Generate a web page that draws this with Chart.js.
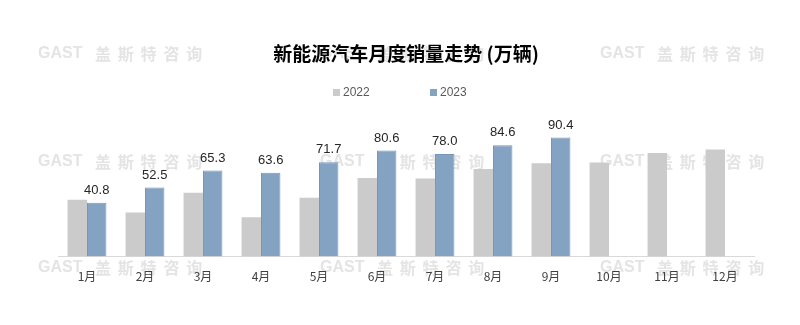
<!DOCTYPE html>
<html>
<head>
<meta charset="utf-8">
<script src="https://cdn.jsdelivr.net/npm/chart.js@4/dist/chart.umd.min.js"></script>
<style>
    html, body { margin: 0; padding: 0; background: #fff; }
    #wrap { width: 800px; height: 325px; }
</style>
</head>
<body>
<div id="wrap"><canvas id="chart"></canvas></div>
<script>
// данные
const months = ['1月', '2月', '3月', '4月', '5月', '6月', '7月', '8月', '9月', '10月', '11月', '12月'];
const sales2022 = [43.1, 33.4, 48.4, 29.9, 44.7, 59.6, 59.3, 66.6, 70.8, 71.4, 78.6, 81.4];
const sales2023 = [40.8, 52.5, 65.3, 63.6, 71.7, 80.6, 78.0, 84.6, 90.4, null, null, null];

const CJK = '"Noto Sans CJK SC", "Liberation Sans", sans-serif';
const COLOR_2022 = '#cbcbcb';
const COLOR_2023 = '#84a2c2';

// водяной знак
const watermarkPlugin = {
    id: 'watermark',
    beforeDraw(chart) {
        const ctx = chart.ctx;
        const cols = [38, 320, 600];
        const rows = [54, 162, 268];
        ctx.save();
        ctx.fillStyle = '#e4e4e4';
        ctx.textBaseline = 'middle';
        ctx.textAlign = 'left';
        rows.forEach(y => {
            cols.forEach(x => {
                ctx.font = 'bold 16px "Liberation Sans", sans-serif';
                ctx.fillText('GAST', x, y);
                ctx.font = 'bold 16px ' + CJK;
                '盖斯特咨询'.split('').forEach((ch, i) => {
                    ctx.fillText(ch, x + 57 + i * 22.8, y);
                });
            });
        });
        ctx.restore();
    }
};

// своя легенда
const legendPlugin = {
    id: 'customLegend',
    afterDraw(chart) {
        const ctx = chart.ctx;
        const items = [
            { x: 333, label: chart.data.datasets[0].label, color: COLOR_2022 },
            { x: 430, label: chart.data.datasets[1].label, color: COLOR_2023 }
        ];
        ctx.save();
        ctx.font = '12px "Liberation Sans", sans-serif';
        ctx.textBaseline = 'middle';
        ctx.textAlign = 'left';
        items.forEach(it => {
            ctx.fillStyle = it.color;
            ctx.fillRect(it.x, 89, 7, 7);
            ctx.fillStyle = '#595959';
            ctx.fillText(it.label, it.x + 10, 93);
        });
        ctx.restore();
    }
};

// подписи значений над столбцами 2023
const valueLabelPlugin = {
    id: 'valueLabels',
    afterDatasetsDraw(chart) {
        const ctx = chart.ctx;
        const meta = chart.getDatasetMeta(1);
        ctx.save();
        ctx.font = '13px "Liberation Sans", sans-serif';
        ctx.fillStyle = '#262626';
        ctx.textAlign = 'center';
        ctx.textBaseline = 'bottom';
        meta.data.forEach((bar, i) => {
            const v = sales2023[i];
            if (v == null) return;
            ctx.fillText(v.toFixed(1), bar.x, bar.y - 6);
        });
        ctx.restore();
    }
};

new Chart(document.getElementById('chart'), {
    type: 'bar',
    data: {
        labels: months,
        datasets: [
            {
                label: '2022',
                data: sales2022,
                backgroundColor: COLOR_2022,
                borderWidth: 0,
                barPercentage: 1,
                categoryPercentage: 0.67
            },
            {
                label: '2023',
                data: sales2023,
                backgroundColor: COLOR_2023,
                borderColor: '#7696bb',
                borderWidth: 1,
                barPercentage: 1,
                categoryPercentage: 0.67
            }
        ]
    },
    options: {
        responsive: true,
        maintainAspectRatio: false,
        animation: false,
        layout: {
            padding: { top: 40, left: 58, right: 46, bottom: 28 }
        },
        plugins: {
            tooltip: { enabled: false },
            legend: { display: false },
            title: {
                display: true,
                text: '新能源汽车月度销量走势 (万辆)',
                color: '#000',
                font: { family: CJK, size: 19, weight: 'bold' },
                padding: { top: 2, bottom: 43 }
            }
        },
        scales: {
            x: {
                grid: { display: false, drawTicks: false },
                border: { display: true, color: '#d9d9d9', width: 1 },
                ticks: {
                    padding: 13,
                    color: '#404040',
                    font: { family: CJK, size: 12 }
                }
            },
            y: {
                display: false,
                min: 0,
                max: 113
            }
        }
    },
    plugins: [watermarkPlugin, legendPlugin, valueLabelPlugin]
});
</script>
</body>
</html>
